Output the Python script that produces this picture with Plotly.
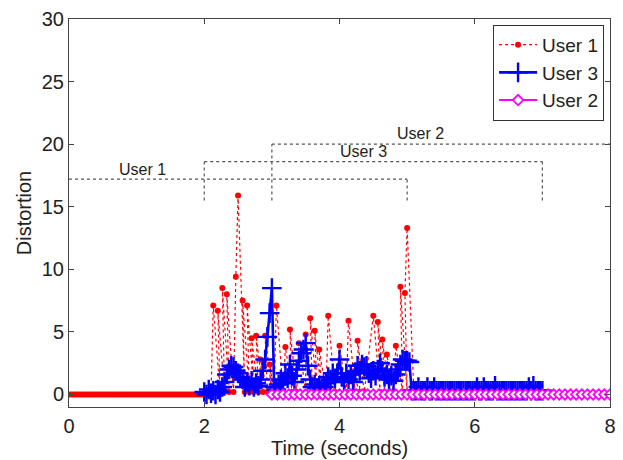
import plotly.graph_objects as go

# ---------------- data ----------------
# User 1 (red, dotted with dots): flat baseline, then distortion spikes 2-5 s
user1_base_t = [i / 30 for i in range(64)]
user1_base_v = [0.0, 0.0, 0.0, 0.0, 0.0, 0.0, 0.0, 0.0, 0.0, 0.0, 0.0, 0.0, 0.0, 0.0, 0.0, 0.0,
                0.0, 0.0, 0.0, 0.0, 0.0, 0.0, 0.0, 0.0, 0.0, 0.0, 0.0, 0.0, 0.0, 0.0, 0.0, 0.0,
                0.0, 0.0, 0.0, 0.0, 0.0, 0.0, 0.0, 0.0, 0.0, 0.0, 0.0, 0.0, 0.0, 0.0, 0.0, 0.0,
                0.0, 0.0, 0.0, 0.0, 0.0, 0.0, 0.0, 0.0, 0.0, 0.0, 0.0, 0.0, 0.0, 0.0, 0.0, 0.0]
user1_spike_t = [2.133, 2.233, 2.2, 2.3, 2.267, 2.367, 2.333, 2.433, 2.467, 2.5, 2.6, 2.567, 2.667,
                 2.633, 2.733, 2.7, 2.8, 2.767, 2.867, 2.833, 2.933, 2.9, 3.0, 2.967, 3.033, 3.067,
                 3.167, 3.2, 3.3, 3.267, 3.367, 3.4, 3.5, 3.5, 3.6, 3.567, 3.667, 3.633, 3.733,
                 3.7, 3.8, 3.833, 3.933, 4.0, 4.1, 4.133, 4.233, 4.2, 4.3, 4.267, 4.367, 4.5, 4.6,
                 4.567, 4.667, 4.633, 4.733, 4.7, 4.8, 4.833, 4.933, 4.9, 5.0, 4.967, 5.0, 5.1]
user1_spike_v = [7.1, 0.2, 6.7, 0.2, 8.5, 0.2, 8.0, 0.2, 9.4, 15.9, 0.2, 7.5, 0.2,
                 7.1, 0.2, 4.5, 0.2, 4.7, 0.2, 2.8, 0.2, 4.7, 0.2, 2.4, 0.2, 7.1,
                 0.2, 3.8, 0.2, 5.2, 0.2, 4.1, 0.2, 4.8, 0.2, 6.1, 0.2, 5.1, 0.2,
                 3.6, 0.2, 6.3, 0.2, 3.9, 0.2, 5.9, 0.2, 1.7, 0.2, 4.3, 0.2, 6.3, 0.2,
                 5.8, 0.2, 4.4, 0.2, 3.2, 0.2, 3.9, 0.2, 8.6, 0.2, 8.1, 13.3, 0.2]

# User 3 (blue, +): 2 s to 7 s, sampled every 1/30 s
user3_t = [i / 30 for i in range(60, 211)]
user3_v = [0.2, 0.0, 0.4, 0.1, 0.3, 0.0, 0.4, 0.2, 0.6, 1.0,   # 2.00-2.30
           1.6, 2.0, 2.3, 2.2, 1.9, 1.7, 1.4, 1.2, 0.6, 1.0,   # 2.33-2.63
           0.7, 1.1, 0.6, 0.9, 0.7, 1.2, 1.9, 2.8, 4.6, 6.5,   # 2.67-2.97
           8.5, 0.6, 0.4, 0.8, 1.2, 0.9, 1.7, 1.3, 2.4, 1.5,   # 3.00-3.30
           1.0, 2.0, 2.7, 3.3, 3.6, 4.1, 2.3, 1.2, 0.6, 0.8,   # 3.33-3.63
           0.5, 0.7, 0.4, 0.6, 0.9, 1.4, 1.2, 1.7, 1.3, 1.7,   # 3.67-3.97
           2.8, 1.4, 1.0, 1.7, 1.2, 1.6, 1.0, 1.8, 2.3, 1.9,   # 4.00-4.30
           2.4, 2.2, 2.3, 1.7, 1.3, 1.9, 1.5, 2.0, 2.5, 1.9,   # 4.33-4.63
           1.4, 1.6, 1.2, 1.5, 1.1, 1.6, 2.0, 2.4, 2.8, 2.7,   # 4.67-4.97
           2.7, 2.6, 0.3, 0.3, 0.3, 0.6, 0.3, 0.3, 0.3, 0.6,   # 5.00-5.30
           0.3, 0.3, 0.6, 0.3, 0.3, 0.3, 0.3, 0.3, 0.3, 0.3,   # 5.33-5.63
           0.3, 0.3, 0.3, 0.3, 0.3, 0.3, 0.3, 0.3, 0.3, 0.3,   # 5.67-5.97
           0.3, 0.6, 0.3, 0.3, 0.6, 0.3, 0.3, 0.3, 0.3, 0.7,   # 6.00-6.30
           0.3, 0.3, 0.3, 0.3, 0.3, 0.3, 0.3, 0.3, 0.3, 0.3,   # 6.33-6.63
           0.3, 0.3, 0.3, 0.3, 0.6, 0.3, 0.7, 0.3, 0.3, 0.3,   # 6.67-6.97
           0.3]                                                # 7.00

# User 2 (magenta, diamonds): 3 s to 8 s, every 1/12 s
user2_t = [3 + i / 12 for i in range(61)]
user2_v = [0.0, 0.0, 0.0, 0.0, 0.0, 0.0, 0.0, 0.0, 0.0, 0.0, 0.0, 0.0, 0.0, 0.0, 0.0, 0.0, 0.0,
           0.0, 0.0, 0.0, 0.0, 0.0, 0.0, 0.0, 0.0, 0.0, 0.0, 0.0, 0.0, 0.0, 0.0, 0.0, 0.0, 0.0,
           0.0, 0.0, 0.0, 0.0, 0.0, 0.0, 0.0, 0.0, 0.0, 0.0, 0.0, 0.0, 0.0, 0.0, 0.0, 0.0, 0.0,
           0.0, 0.0, 0.0, 0.0, 0.0, 0.0, 0.0, 0.0, 0.0, 0.0]

# Activity brackets
bracket_names = ["User 1", "User 3", "User 2"]
bracket_start = [0, 2, 3]
bracket_end = [5, 7, 8]
bracket_level = [17.2, 18.6, 20.0]
bracket_drop = 15.5
bracket_label_x = [1.08, 4.35, 5.2]
bracket_label_y = [17.95, 19.4, 20.85]

x_ticks = [0, 2, 4, 6, 8]
y_ticks = [0, 5, 10, 15, 20, 25, 30]
x_title = "Time (seconds)"
y_title = "Distortion"

FONT = "Liberation Sans, Arial, Helvetica, sans-serif"
TXT = "#222222"

# ---------------- figure ----------------
fig = go.Figure()

fig.add_trace(go.Scatter(
    x=user1_base_t + user1_spike_t, y=user1_base_v + user1_spike_v,
    mode="lines+markers", name="User 1",
    line=dict(color="#FF0000", width=1.2, dash="dot"),
    marker=dict(color="#FF0000", size=6, symbol="circle"),
))
fig.add_trace(go.Scatter(
    x=user3_t, y=user3_v, mode="lines+markers", name="User 3",
    line=dict(color="#0000FF", width=2.6),
    marker=dict(symbol="cross-thin", size=14, color="#0000FF",
                line=dict(color="#0000FF", width=2.4)),
))
fig.add_trace(go.Scatter(
    x=user2_t, y=user2_v, mode="lines+markers", name="User 2",
    line=dict(color="#FF00FF", width=2),
    marker=dict(symbol="diamond", size=8, color="white",
                line=dict(color="#FF00FF", width=1.8)),
))

shapes = []
for s, e, lvl in zip(bracket_start, bracket_end, bracket_level):
    shapes.append(dict(type="line", xref="x", yref="y", x0=s, x1=e, y0=lvl, y1=lvl,
                       line=dict(color="#555555", width=1.2, dash="dot")))
    for xv in (s, e):
        if 0 < xv < 8:
            shapes.append(dict(type="line", xref="x", yref="y", x0=xv, x1=xv,
                               y0=bracket_drop, y1=lvl,
                               line=dict(color="#555555", width=1.2, dash="dot")))

annotations = []
for name, lx, ly in zip(bracket_names, bracket_label_x, bracket_label_y):
    annotations.append(dict(x=lx, y=ly, xref="x", yref="y", text=name, showarrow=False,
                            font=dict(size=16, color=TXT, family=FONT)))
# x-axis title placed just under the tick labels
annotations.append(dict(x=0.5, y=-0.105, xref="paper", yref="paper", text=x_title,
                        showarrow=False, xanchor="center", yanchor="middle",
                        font=dict(size=20, color=TXT, family=FONT)))

axis_common = dict(showline=True, linecolor="#444444", linewidth=1, mirror="ticks",
                   ticks="inside", ticklen=5, tickcolor="#444444", showgrid=False,
                   zeroline=False, automargin=False,
                   tickfont=dict(size=20, color=TXT, family=FONT))

# the page body adds an 8 px offset, so the figure is 8 px smaller on each side
fig.update_layout(
    width=615, height=452,
    margin=dict(l=61, r=13, t=11, b=53),
    paper_bgcolor="white", plot_bgcolor="white",
    shapes=shapes, annotations=annotations,
    xaxis=dict(range=[0, 8], tickvals=x_ticks, ticklabelstandoff=1, **axis_common),
    yaxis=dict(range=[-1, 30], tickvals=y_ticks,
               title=dict(text=y_title, standoff=4,
                          font=dict(size=20, color=TXT, family=FONT)),
               **axis_common),
    legend=dict(x=0.989, y=0.985, xanchor="right", yanchor="top",
                bgcolor="white", bordercolor="#333333", borderwidth=1,
                font=dict(size=19, color=TXT, family=FONT),
                tracegroupgap=0, itemwidth=38),
    showlegend=True,
)

fig.write_html("out.html")
